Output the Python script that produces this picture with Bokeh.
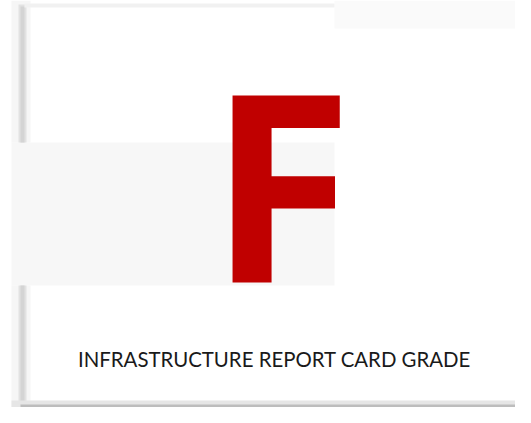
from bokeh.plotting import figure
from bokeh.models import Range1d
from bokeh.core.properties import value
from bokeh.embed import file_html
from bokeh.resources import INLINE

# Content
grade = ["F"]
caption = ["INFRASTRUCTURE REPORT CARD GRADE"]
grade_color = "#c00000"

W, H = 515, 407
p = figure(width=W, height=H, output_backend="svg", toolbar_location=None,
           x_range=Range1d(0, W), y_range=Range1d(H, 0),
           min_border=0, outline_line_color=None, background_fill_color="white",
           border_fill_color="white")
p.axis.visible = False
p.grid.visible = False

# card decoration
p.quad(left=[334], right=[515], top=[0], bottom=[28], fill_color="#fafafa", line_color=None)
p.quad(left=[11], right=[334], top=[142], bottom=[285], fill_color="#f7f7f7", line_color=None)
# left shadow
p.quad(left=[11], right=[30], top=[0], bottom=[142], fill_color="#f6f6f6", line_color=None)
p.quad(left=[11], right=[30], top=[285], bottom=[407], fill_color="#f6f6f6", line_color=None)
p.quad(left=[18], right=[26], top=[4], bottom=[142], fill_color="#e2e2e2", line_color=None)
p.quad(left=[20], right=[24], top=[6], bottom=[142], fill_color="#d4d4d4", line_color=None)
p.quad(left=[18], right=[26], top=[285], bottom=[404], fill_color="#e2e2e2", line_color=None)
p.quad(left=[20], right=[24], top=[285], bottom=[402], fill_color="#d4d4d4", line_color=None)
# top faint line
p.quad(left=[24], right=[334], top=[3], bottom=[7], fill_color="#f1f1f1", line_color=None)
# bottom shadow
p.quad(left=[11], right=[515], top=[400], bottom=[407], fill_color="#e6e6e6", line_color=None)
p.quad(left=[20], right=[515], top=[404], bottom=[407], fill_color="#bdbdbd", line_color=None)

# grade letter
p.text(x=[208.5], y=[180.5], text=grade, text_color=grade_color,
       text_font=value("Open Sans"), text_font_style="bold",
       text_font_size="262px", text_align="left", text_baseline="middle")

# caption
p.text(x=[274], y=[358.5], text=caption, text_color="#1a1a1a",
       text_font=value("Lato"), text_font_size="20.4px",
       text_align="center", text_baseline="middle")

open("out.html", "w").write(file_html(p, INLINE))
